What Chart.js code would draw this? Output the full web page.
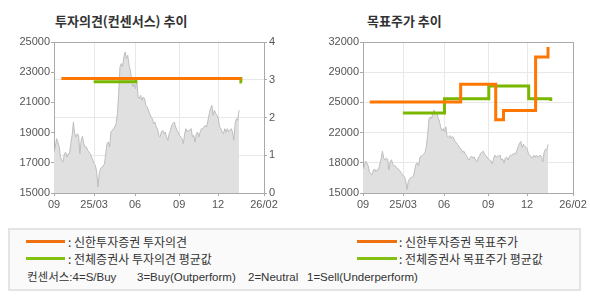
<!DOCTYPE html>
<html>
<head>
<meta charset="utf-8">
<script src="https://cdn.jsdelivr.net/npm/chart.js@4"></script>
<style>
  body { margin: 0; background: #fff; width: 590px; height: 300px; position: relative; overflow: hidden; }
  .box { position: absolute; }
  .titulo { position: absolute; top: 11px; font: bold 13px "Noto Sans CJK KR", sans-serif; color: #333; }
  .leyenda { position: absolute; left: 8px; top: 228px; width: 569px; height: 59px; border: 2px solid #e4e4e4; background: #fafafa; }
  .item { position: absolute; font: 12px "Noto Sans CJK KR", sans-serif; color: #333; white-space: nowrap; line-height: 14px; }
  .raya { position: absolute; height: 3px; }
  .nota { position: absolute; top: 40px; font: 11.5px "Liberation Sans", "Noto Sans CJK KR", sans-serif; color: #333; white-space: nowrap; line-height: 14px; }
</style>
</head>
<body>
<div class="titulo" style="left:55px">투자의견(컨센서스) 추이</div>
<div class="titulo" style="left:367px">목표주가 추이</div>
<div class="box" style="left:0;top:0"><canvas id="opinion" width="295" height="215"></canvas></div>
<div class="box" style="left:295px;top:0"><canvas id="objetivo" width="295" height="215"></canvas></div>

<div class="leyenda">
  <div class="raya" style="left:16px;top:10px;width:39px;background:#ee7010"></div>
  <div class="item" style="left:58px;top:5px">: 신한투자증권 투자의견</div>
  <div class="raya" style="left:16px;top:27px;width:39px;background:#82c012"></div>
  <div class="item" style="left:58px;top:22px">: 전체증권사 투자의견 평균값</div>
  <div class="raya" style="left:347px;top:10px;width:40px;background:#ee7010"></div>
  <div class="item" style="left:389px;top:5px">: 신한투자증권 목표주가</div>
  <div class="raya" style="left:347px;top:27px;width:40px;background:#82c012"></div>
  <div class="item" style="left:389px;top:22px">: 전체증권사 목표주가 평균값</div>
  <div class="nota" style="left:17px">컨센서스:4=S/Buy</div>
  <div class="nota" style="left:127px">3=Buy(Outperform)</div>
  <div class="nota" style="left:238px">2=Neutral</div>
  <div class="nota" style="left:297px">1=Sell(Underperform)</div>
</div>

<script>
// eje x: 0..100, etiquetas en estas posiciones
const xTickPos = [0, 19.1, 38.6, 59.6, 78.1, 100];
const xTickLabels = ['09', '25/03', '06', '09', '12', '26/02'];
const precioFin = 88.1;

// precio diario
const precios = [
  17700, 18050, 18600, 18380, 18050, 17380, 17160, 17050, 17600, 17700,
  17380, 17600, 17600, 18270, 18820, 19700, 18930, 18710, 18930, 18820,
  17600, 18490, 18750, 18270, 18050, 18050, 17830, 17720, 17600, 17380,
  17160, 16940, 16830, 16390, 15400, 16280, 16610, 16720, 16770, 16940,
  17600, 18270, 18380, 18050, 19040, 19150, 19260, 19370, 19590, 20250,
  21580, 23350, 23570, 23350, 24010, 24340, 23900, 24120, 23460, 23130,
  22460, 22020, 22240, 21910, 22460, 21360, 21250, 21470, 21140, 21360,
  21250, 20810, 20700, 20480, 20250, 20030, 19920, 19590, 19700, 19370,
  19260, 18820, 18710, 19040, 19150, 18930, 19040, 18710, 18490, 18930,
  19150, 19480, 19590, 19700, 19370, 19150, 19040, 18820, 18710, 18600,
  18270, 18930, 19260, 19040, 19150, 19150, 19260, 18710, 18820, 18380,
  18930, 19040, 18710, 19040, 19260, 19260, 19370, 19480, 19370, 19810,
  20250, 20590, 20810, 20140, 20480, 20250, 20140, 19920, 19370, 19260,
  19040, 18930, 19260, 19040, 19260, 19040, 19150, 19260, 19040, 18490,
  19590, 19920, 19810, 20480
];

// 투자의견 (x, 값)
const opinionShinhan = [[3.5, 3.03], [89.2, 3.03]];
const opinionPromedio = [[18.9, 2.95], [38.9, 3.03], [89.0, 2.94], [89.5, 2.94]];

// 목표주가 (x, 값)
const objetivoShinhan = [[3.2, 25250], [46.5, 27250], [63.2, 23250], [66.9, 24300], [82.2, 30300], [88.1, 31450]];
const objetivoPromedio = [[19.0, 24000], [38.8, 25600], [59.9, 27050], [78.9, 25600], [89.4, 25350]];

const yTicksR = [15000, 18400, 21800, 25200, 28600, 32000];
const yLabelsR = ['15000', '18000', '22000', '25000', '29000', '32000'];

const NARANJA = '#ff7700';
const VERDE = '#7ab800';
const BORDE = '#aaaaaa';
const REJILLA = '#e8e8e8';
const fuenteTicks = { family: 'Liberation Sans', size: 11 };

const puntosPrecio = precios.map((v, i) => ({ x: i * precioFin / (precios.length - 1), y: v }));
const aPuntos = arr => arr.map(p => ({ x: p[0], y: p[1] }));

function ejeX(alto) {
    return {
        type: 'linear', min: 0, max: 100,
        afterBuildTicks: s => { s.ticks = xTickPos.map(v => ({ value: v })); },
        afterFit: s => { s.height = alto; },
        ticks: { autoSkip: false, maxRotation: 0, padding: 2, color: '#555', font: fuenteTicks,
                 callback: (v, i) => xTickLabels[i] },
        grid: { color: c => (c.tick && c.tick.value === 100) ? BORDE : REJILLA, tickColor: BORDE, tickLength: 3 },
        border: { color: BORDE }
    };
}

// order menor = se dibuja encima
function serieLinea(datos, color, eje, orden) {
    return {
        data: aPuntos(datos), borderColor: color, borderWidth: 3, pointRadius: 0, order: orden,
        stepped: 'before', fill: false, yAxisID: eje, borderCapStyle: 'butt'
    };
}

function seriePrecio(eje) {
    return {
        data: puntosPrecio, borderColor: '#bdbdbd', borderWidth: 1, backgroundColor: '#e0e0e0', order: 3,
        pointRadius: 0, fill: 'start', tension: 0, yAxisID: eje
    };
}

new Chart(document.getElementById('opinion'), {
    type: 'line',
    data: {
        datasets: [
            seriePrecio('y'),
            serieLinea(opinionPromedio, VERDE, 'y2', 2),
            serieLinea(opinionShinhan, NARANJA, 'y2', 1)
        ]
    },
    options: {
        responsive: false, animation: false, devicePixelRatio: 1,
        layout: { padding: { top: 42, left: 0, right: 0, bottom: 0 } },
        plugins: { legend: { display: false }, tooltip: { enabled: false } },
        scales: {
            x: ejeX(22),
            y: {
                min: 15000, max: 25000,
                afterFit: s => { s.width = 54; },
                ticks: { stepSize: 2000, padding: 1, color: '#555', font: fuenteTicks, callback: v => String(v) },
                grid: { drawOnChartArea: false, tickColor: BORDE, tickLength: 3 },
                border: { color: BORDE }
            },
            y2: {
                position: 'right', min: 0, max: 4,
                afterFit: s => { s.width = 31; },
                ticks: { stepSize: 1, padding: 2, color: '#555', font: fuenteTicks },
                grid: { color: c => (c.tick && c.tick.value === 4) ? BORDE : REJILLA, tickColor: BORDE, tickLength: 3 },
                border: { color: BORDE }
            }
        }
    }
});

new Chart(document.getElementById('objetivo'), {
    type: 'line',
    data: {
        datasets: [
            seriePrecio('y'),
            serieLinea(objetivoPromedio, VERDE, 'y', 2),
            serieLinea(objetivoShinhan, NARANJA, 'y', 1)
        ]
    },
    options: {
        responsive: false, animation: false, devicePixelRatio: 1,
        layout: { padding: { top: 42, left: 0, right: 17, bottom: 0 } },
        plugins: { legend: { display: false }, tooltip: { enabled: false } },
        scales: {
            x: ejeX(22),
            y: {
                min: 15000, max: 32000,
                afterFit: s => { s.width = 68; },
                afterBuildTicks: s => { s.ticks = yTicksR.map(v => ({ value: v })); },
                ticks: { padding: 1, color: '#555', font: fuenteTicks, callback: (v, i) => yLabelsR[i] },
                grid: { color: c => (c.tick && c.tick.value === 32000) ? BORDE : REJILLA, tickColor: BORDE, tickLength: 3 },
                border: { color: BORDE }
            }
        }
    }
});
</script>
</body>
</html>
